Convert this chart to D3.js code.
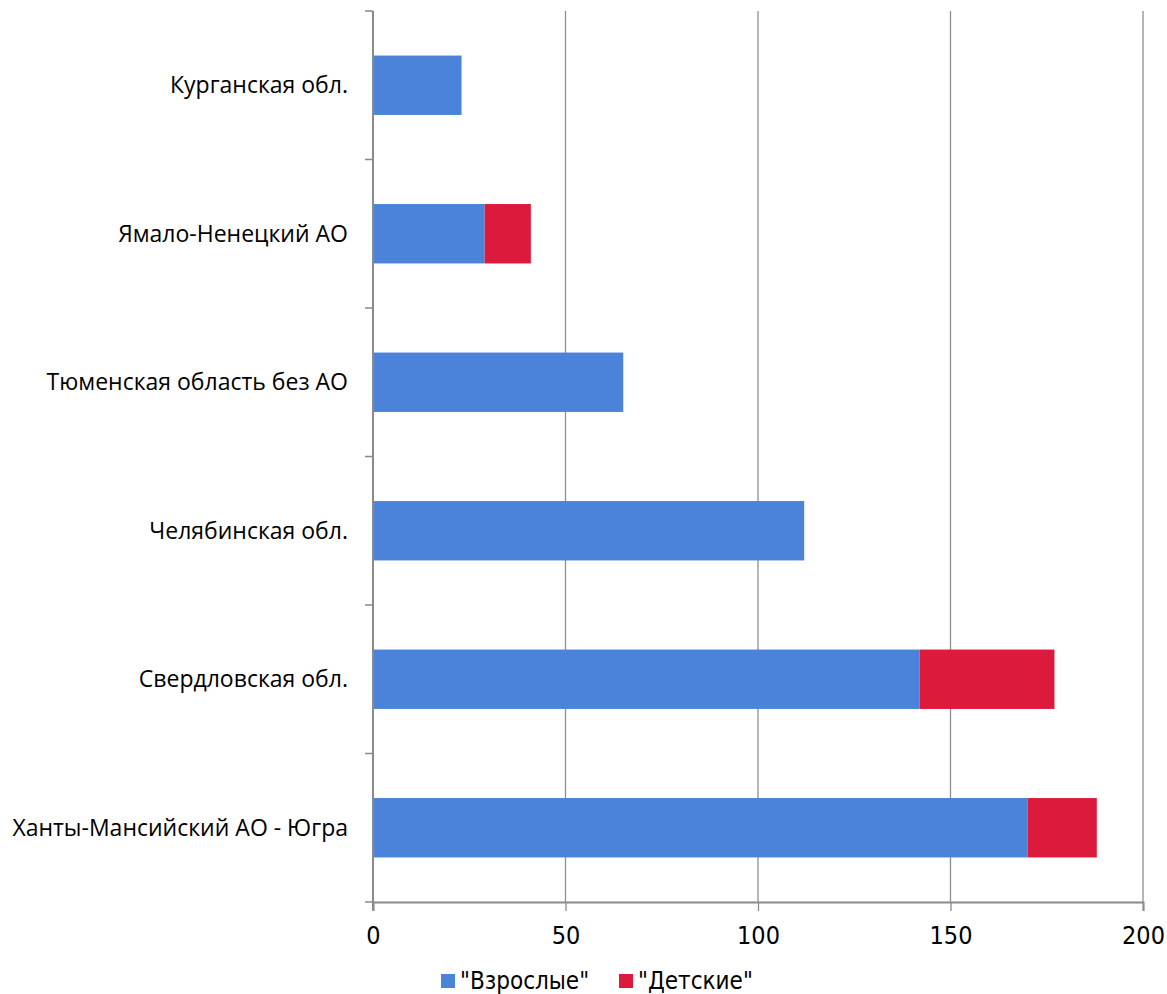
<!DOCTYPE html>
<html>
<head>
<meta charset="utf-8">
<script src="https://cdn.jsdelivr.net/npm/d3@7"></script>
<style>
  html, body { margin: 0; padding: 0; background: #fff; }
  svg { display: block; }
</style>
</head>
<body>
<svg id="chart" width="1167" height="994"></svg>
<script>
// Regions, top to bottom
const regions = [
  "Курганская обл.",
  "Ямало-Ненецкий АО",
  "Тюменская область без АО",
  "Челябинская обл.",
  "Свердловская обл.",
  "Ханты-Мансийский АО - Югра"
];
const seriesNames = ['"Взрослые"', '"Детские"'];
const adultValues = [23, 29, 65, 112, 142, 170];
const childValues = [0, 12, 0, 0, 35, 18];
const xTicks = [0, 50, 100, 150, 200];
const colors = ["#4a83d9", "#dc1a3c"];

const svg = d3.select("#chart");
const margin = { top: 11, left: 373 };
const innerW = 1143 - margin.left;
const innerH = 902 - margin.top;

const g = svg.append("g").attr("transform", `translate(${margin.left},${margin.top})`);

const x = d3.scaleLinear().domain([0, 200]).range([0, innerW]);
const y = d3.scaleBand().domain(regions).range([0, innerH]).paddingInner(0.6).paddingOuter(0.3);

const rows = regions.map((r, i) => ({ region: r, a: adultValues[i], c: childValues[i] }));
const stack = d3.stack().keys(["a", "c"])(rows);

const axisColor = "#8a8a8a";
const labelFont = "'Open Sans', 'Noto Sans', sans-serif";
const tickFont = "'Liberation Sans Narrow', 'DejaVu Sans Condensed', sans-serif";

// vertical gridlines
g.append("g")
  .selectAll("line")
  .data(xTicks.slice(1))
  .join("line")
  .attr("x1", d => x(d)).attr("x2", d => x(d))
  .attr("y1", 0).attr("y2", innerH)
  .attr("stroke", "#8f8f8f").attr("stroke-width", 1.3);

// stacked bars
stack.forEach((layer, k) => {
  g.append("g")
    .selectAll("rect")
    .data(layer.filter(d => d[1] > d[0]))
    .join("rect")
    .attr("x", d => x(d[0]))
    .attr("width", d => x(d[1]) - x(d[0]))
    .attr("y", d => y(d.data.region))
    .attr("height", y.bandwidth())
    .attr("fill", colors[k]);
});

// category axis (left)
const yStep = innerH / regions.length;
const leftAxis = g.append("g");
leftAxis.append("line")
  .attr("x1", 0).attr("x2", 0).attr("y1", 0).attr("y2", innerH + 8)
  .attr("stroke", axisColor).attr("stroke-width", 2);
leftAxis.selectAll("line.tick")
  .data(d3.range(regions.length + 1))
  .join("line")
  .attr("class", "tick")
  .attr("x1", -8).attr("x2", 0)
  .attr("y1", d => d * yStep).attr("y2", d => d * yStep)
  .attr("stroke", axisColor).attr("stroke-width", 1.5);
leftAxis.selectAll("text")
  .data(regions)
  .join("text")
  .attr("x", -25)
  .attr("y", d => y(d) + y.bandwidth() / 2)
  .attr("dy", "0.35em")
  .attr("text-anchor", "end")
  .attr("font-family", labelFont)
  .attr("font-size", 23)
  .attr("fill", "#000")
  .text(d => d);

// value axis (bottom)
const xAxis = d3.axisBottom(x).tickValues(xTicks).tickSize(9).tickPadding(15).tickFormat(d3.format("d"));
const bottom = g.append("g").attr("transform", `translate(0,${innerH})`).call(xAxis);
bottom.select(".domain").attr("stroke", axisColor).attr("stroke-width", 2);
bottom.selectAll(".tick line").attr("stroke", axisColor).attr("stroke-width", 1.3);
bottom.selectAll(".tick text")
  .attr("font-family", tickFont)
  .attr("font-size", 25)
  .attr("fill", "#000");

// legend
const legend = svg.append("g").attr("transform", "translate(441,0)");
const legendX = [0, 178];
seriesNames.forEach((name, i) => {
  const item = legend.append("g").attr("transform", `translate(${legendX[i]},0)`);
  item.append("rect").attr("x", 0).attr("y", 974).attr("width", 14).attr("height", 14).attr("fill", colors[i]);
  item.append("text")
    .attr("x", 19).attr("y", 989)
    .attr("font-family", tickFont)
    .attr("font-size", 24)
    .attr("fill", "#000")
    .text(name);
});
</script>
</body>
</html>
